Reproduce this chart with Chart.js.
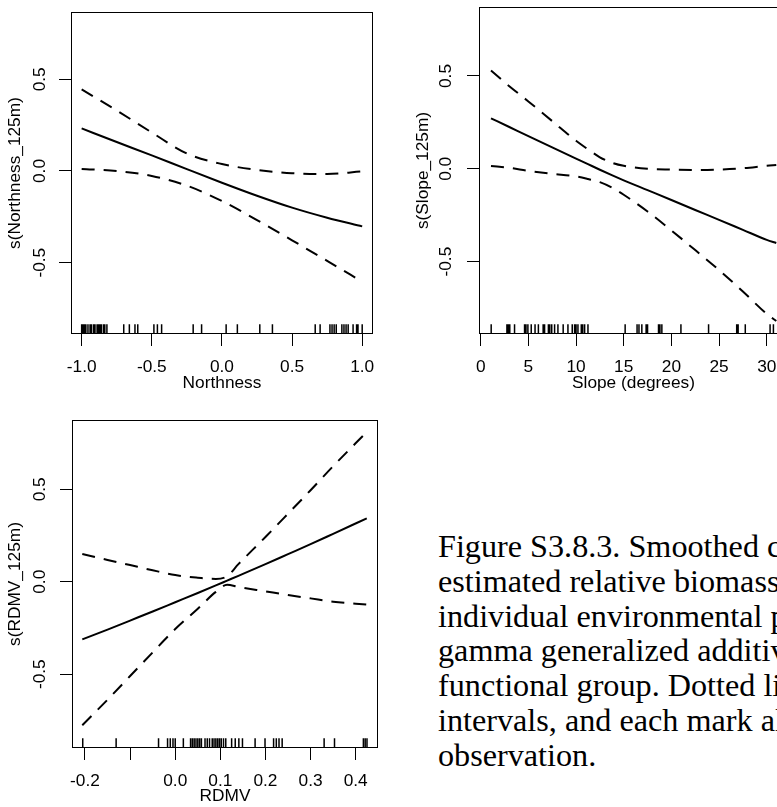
<!DOCTYPE html>
<html>
<head>
<meta charset="utf-8">
<title>Smoothed partial effects</title>
<script src="https://cdn.jsdelivr.net/npm/chart.js@4.4.1/dist/chart.umd.min.js"></script>
<style>
  html, body { margin: 0; padding: 0; background: #fff; }
  #page { position: relative; width: 777px; height: 807px; overflow: hidden; background: #fff; }
  #page canvas { position: absolute; }
  #caption {
    position: absolute; left: 438px; top: 529px;
    font-family: "Liberation Serif", "Times New Roman", serif;
    font-size: 32.2px; line-height: 34.8px; color: #000; white-space: nowrap;
  }
</style>
</head>
<body>
<div id="page">
  <canvas id="northness" width="390" height="400" style="left:0;top:0"></canvas>
  <canvas id="slope" width="390" height="400" style="left:408px;top:0"></canvas>
  <canvas id="rdmv" width="390" height="407" style="left:0;top:400px"></canvas>
  <div id="caption">
    <div>Figure S3.8.3. Smoothed curves</div>
    <div>estimated relative biomass of</div>
    <div>individual environmental predictors</div>
    <div>gamma generalized additive</div>
    <div>functional group. Dotted lines</div>
    <div>intervals, and each mark along</div>
    <div>observation.</div>
  </div>
</div>
<script>
// ---- Northness term ----
const northX     = [-1, -0.75, -0.5, -0.25, 0, 0.25, 0.5, 0.75, 1];
const northFit   = [0.232, 0.158, 0.085, 0.01, -0.064, -0.135, -0.2, -0.255, -0.302];
const northUpper = [0.445, 0.33, 0.21, 0.095, 0.038, 0.006, -0.012, -0.016, -0.002];
const northLower = [0.011, 0.0, -0.027, -0.08, -0.164, -0.268, -0.378, -0.49, -0.604];
const northRug   = [-1.0, -0.99, -0.98, -0.97, -0.955, -0.94, -0.93, -0.915, -0.905, -0.89, -0.88,
                    -0.87, -0.86, -0.845, -0.835, -0.82, -0.70, -0.66, -0.62, -0.60, -0.485, -0.46,
                    -0.43, -0.205, -0.145, 0.03, 0.11, 0.27, 0.36, 0.665, 0.70, 0.77, 0.785, 0.80,
                    0.815, 0.855, 0.87, 0.885, 0.90, 0.935, 0.96, 0.97, 1.0];
const northTicks      = [-1, -0.5, 0, 0.5, 1];
const northTickLabels = ['-1.0', '-0.5', '0.0', '0.5', '1.0'];

// ---- Slope term ----
const slopeX     = [1.08, 3, 5, 7.5, 10, 11.25, 12.5, 13.75, 15, 17.5, 20, 22.5, 25, 27.5, 30, 31];
const slopeFit   = [0.272, 0.225, 0.176, 0.115, 0.055, 0.025, -0.005, -0.034, -0.062, -0.115, -0.168, -0.222, -0.275, -0.329, -0.383, -0.40];
const slopeUpper = [0.529, 0.445, 0.363, 0.257, 0.151, 0.105, 0.062, 0.033, 0.016, 0.0, -0.004, -0.006, -0.004, 0.003, 0.016, 0.02];
const slopeLower = [0.015, 0.005, -0.011, -0.027, -0.041, -0.055, -0.072, -0.101, -0.14, -0.23, -0.332, -0.438, -0.546, -0.661, -0.782, -0.82];
const slopeRug   = [1.1, 2.75, 2.9, 3.05, 3.55, 4.6, 4.75, 4.95, 5.3, 5.7, 6.05, 6.55, 6.7, 7.1, 7.25,
                    7.45, 7.75, 8.1, 8.65, 9.15, 9.6, 9.85, 10.0, 10.2, 10.55, 10.7, 10.9, 11.25, 15.15,
                    16.4, 16.6, 16.9, 17.35, 17.5, 18.65, 18.8, 19.0, 21.0, 23.9, 26.85, 27.0, 27.75,
                    30.35, 30.7];
const slopeTicks      = [0, 5, 10, 15, 20, 25, 30];
const slopeTickLabels = ['0', '5', '10', '15', '20', '25', '30'];

// ---- RDMV term ----
const rdmvX     = [-0.206, -0.15, -0.1, -0.05, 0.0, 0.05, 0.09, 0.115, 0.14, 0.2, 0.25, 0.3, 0.35, 0.4245];
const rdmvFit   = [-0.312, -0.259, -0.21, -0.161, -0.111, -0.061, -0.02, 0.006, 0.032, 0.095, 0.149, 0.203, 0.259, 0.343];
const rdmvUpper = [0.15, 0.118, 0.09, 0.062, 0.036, 0.022, 0.015, 0.03, 0.095, 0.242, 0.368, 0.495, 0.625, 0.81];
const rdmvLower = [-0.776, -0.638, -0.51, -0.382, -0.256, -0.146, -0.055, -0.016, -0.028, -0.052, -0.072, -0.09, -0.108, -0.124];
const rdmvRug   = [-0.205, -0.131, -0.037, -0.017, -0.011, -0.005, 0.0, 0.018, 0.034, 0.038, 0.042,
                   0.046, 0.05, 0.054, 0.058, 0.066, 0.071, 0.076, 0.082, 0.086, 0.09, 0.094, 0.098,
                   0.102, 0.107, 0.112, 0.125, 0.133, 0.141, 0.149, 0.177, 0.199, 0.218, 0.224, 0.23,
                   0.237, 0.33, 0.353, 0.417, 0.421, 0.425];
const rdmvTicks      = [-0.2, -0.1, 0, 0.1, 0.2, 0.3, 0.4];
const rdmvTickLabels = ['-0.2', '', '0.0', '0.1', '0.2', '0.3', '0.4'];

// ---- shared effect axis ----
const effectTicks      = [-0.5, 0, 0.5];
const effectTickLabels = ['-0.5', '0.0', '0.5'];

Chart.defaults.font.family = '"Liberation Sans", Arial, Helvetica, sans-serif';
Chart.defaults.font.size = 17.3;
Chart.defaults.color = '#000';

// Frame around the plotting region
const framePlugin = {
  id: 'frame',
  afterDraw(chart) {
    const { ctx, chartArea: a } = chart;
    ctx.save();
    ctx.strokeStyle = '#000';
    ctx.lineWidth = 1;
    ctx.strokeRect(a.left + 0.5, a.top + 0.5, a.right - a.left - 1, a.bottom - a.top - 1);
    ctx.restore();
  }
};

// Rug of observed covariate values along the bottom edge
const rugPlugin = {
  id: 'rug',
  afterDatasetsDraw(chart, args, opts) {
    const { ctx, chartArea: a } = chart;
    const xs = chart.scales.x;
    const len = (a.bottom - a.top) * 0.03;
    ctx.save();
    ctx.strokeStyle = '#000';
    ctx.lineWidth = 1.5;
    ctx.beginPath();
    (opts.values || []).forEach(v => {
      const px = xs.getPixelForValue(v);
      ctx.moveTo(px, a.bottom);
      ctx.lineTo(px, a.bottom - len);
    });
    ctx.stroke();
    ctx.restore();
  }
};

function pairs(xs, ys) { return xs.map((x, i) => ({ x, y: ys[i] })); }

function effectPanel(id, p) {
  const curve = { borderColor: '#000', borderWidth: 2, pointRadius: 0, fill: false,
                  cubicInterpolationMode: 'monotone' };
  const dash = [13, 9];
  return new Chart(document.getElementById(id), {
    type: 'line',
    data: {
      datasets: [
        Object.assign({ data: pairs(p.x, p.fit) }, curve),
        Object.assign({ data: pairs(p.x, p.upper), borderDash: dash }, curve),
        Object.assign({ data: pairs(p.x, p.lower), borderDash: dash }, curve)
      ]
    },
    options: {
      responsive: false,
      animation: false,
      events: [],
      layout: { padding: { left: 0, top: p.top, right: p.right, bottom: 0 } },
      plugins: {
        legend: { display: false },
        tooltip: { enabled: false },
        rug: { values: p.rug }
      },
      scales: {
        x: {
          type: 'linear', position: 'bottom', bounds: 'data',
          min: p.xMin, max: p.xMax,
          afterBuildTicks: s => { s.ticks = p.ticks.map(v => ({ value: v })); },
          afterFit: s => {
            s.height = p.xAxisHeight;
            s.paddingLeft = s.paddingRight = s.paddingTop = s.paddingBottom = 0;
          },
          grid: { drawOnChartArea: false, drawTicks: true, tickLength: 12, tickColor: '#000', tickWidth: 1 },
          border: { display: false },
          ticks: {
            autoSkip: false, minRotation: 0, maxRotation: 0, padding: p.xTickPad, color: '#000',
            callback: (v, i) => p.tickLabels[i]
          },
          title: { display: true, text: p.xTitle, color: '#000',
                   padding: { top: 0, bottom: p.xTitlePad } }
        },
        y: {
          type: 'linear', position: 'left', bounds: 'data',
          min: p.yMin, max: p.yMax,
          afterBuildTicks: s => { s.ticks = effectTicks.map(v => ({ value: v })); },
          afterFit: s => {
            s.width = p.yAxisWidth;
            s.paddingLeft = s.paddingRight = s.paddingTop = s.paddingBottom = 0;
          },
          grid: { drawOnChartArea: false, drawTicks: true, tickLength: 12, tickColor: '#000', tickWidth: 1 },
          border: { display: false },
          ticks: {
            autoSkip: false, minRotation: 90, maxRotation: 90, crossAlign: 'center',
            padding: p.yTickPad, color: '#000',
            callback: (v, i) => effectTickLabels[i]
          },
          title: { display: true, text: p.yTitle, color: '#000',
                   padding: { top: 5, bottom: 0 } }
        }
      }
    },
    plugins: [framePlugin, rugPlugin]
  });
}

effectPanel('northness', {
  x: northX, fit: northFit, upper: northUpper, lower: northLower, rug: northRug,
  ticks: northTicks, tickLabels: northTickLabels,
  xMin: -1.076, xMax: 1.077, yMin: -0.889, yMax: 0.867,
  top: 12, right: 17, xAxisHeight: 66, yAxisWidth: 71,
  xTickPad: 11, xTitlePad: 6.6, yTickPad: 4,
  xTitle: 'Northness', yTitle: 's(Northness_125m)'
});

effectPanel('slope', {
  x: slopeX, fit: slopeFit, upper: slopeUpper, lower: slopeLower, rug: slopeRug,
  ticks: slopeTicks, tickLabels: slopeTickLabels,
  xMin: -0.178, xMax: 32.23, yMin: -0.89, yMax: 0.8716,
  top: 7, right: 10, xAxisHeight: 66, yAxisWidth: 71,
  xTickPad: 11, xTitlePad: 6.6, yTickPad: 5.4,
  xTitle: 'Slope (degrees)', yTitle: 's(Slope_125m)'
});

effectPanel('rdmv', {
  x: rdmvX, fit: rdmvFit, upper: rdmvUpper, lower: rdmvLower, rug: rdmvRug,
  ticks: rdmvTicks, tickLabels: rdmvTickLabels,
  xMin: -0.2288, xMax: 0.4494, yMin: -0.8992, yMax: 0.8747,
  top: 20, right: 12, xAxisHeight: 59, yAxisWidth: 72,
  xTickPad: 10.4, xTitlePad: 0, yTickPad: 5,
  xTitle: 'RDMV', yTitle: 's(RDMV_125m)'
});
</script>
</body>
</html>
